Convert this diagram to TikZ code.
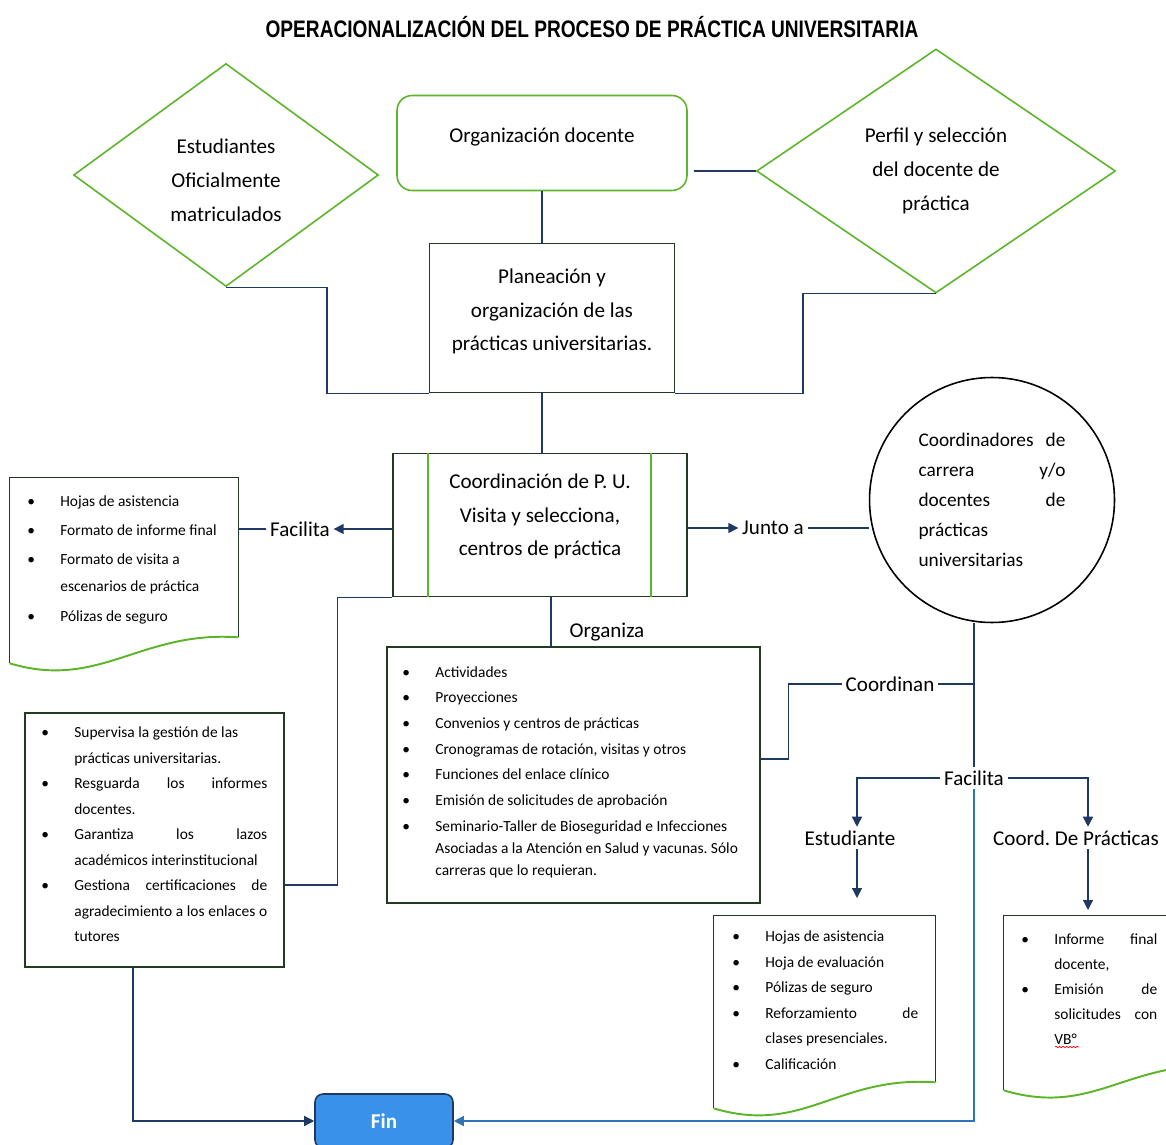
\documentclass[tikz,border=0pt]{standalone}
\usepackage{fontspec}
\setmainfont{Carlito}
\newfontfamily\titlefont[FakeStretch=0.8]{Liberation Sans}
\usepackage{enumitem}
\setlist[itemize]{label=\textbullet, nosep, leftmargin=0.66cm, labelwidth=0.66cm, labelsep=0pt, labelindent=0pt, align=left}
\usetikzlibrary{shapes.geometric,arrows.meta,decorations.pathmorphing}
\definecolor{marino}{RGB}{31, 56, 100}
\definecolor{azul}{RGB}{46, 117, 182}
\definecolor{verde}{RGB}{92, 180, 40}
\definecolor{borde}{RGB}{34, 58, 34}
\definecolor{finazul}{RGB}{58, 145, 232}
\frenchspacing

\begin{document}
\begin{tikzpicture}[x=0.02cm, y=-0.02cm,
    linea/.style={draw=marino, line width=0.75pt},
    flecha/.style={linea, -{Triangle[length=2mm, width=2mm]}},
    caja/.style={draw=borde, line width=0.9pt, align=center, inner sep=0pt, font=\fontsize{12}{19.3}\selectfont},
    rombo/.style={diamond, draw=verde, line width=0.9pt, align=center, inner sep=0pt, font=\fontsize{12}{19.3}\selectfont},
    etiq/.style={inner sep=2pt, font=\fontsize{12}{14}\selectfont},
    lista/.style={anchor=north west, inner sep=0pt},
    marco/.style={inner sep=0pt}]
  \useasboundingbox (0,0) rectangle (1166,1145);
  \clip (0,0) rectangle (1166,1145);

  % titulo
  \node (titulo) at (592,27) {\titlefont\bfseries\fontsize{13.6}{16}\selectfont OPERACIONALIZACIÓN DEL PROCESO DE PRÁCTICA UNIVERSITARIA};

  % parte superior
  \node[rombo, minimum width=6.1cm, minimum height=4.46cm] (estud) at (226,175) {\rule{0pt}{0.5cm}Estudiantes\\Oficialmente\\matriculados};
  \node[caja, draw=verde, rounded corners=0.3cm, minimum width=5.8cm, minimum height=1.9cm] (org) at (542,143) {Organización docente\rule[-0.33cm]{0pt}{0pt}};
  \node[rombo, minimum width=7.18cm, minimum height=4.88cm] (perfil) at (936,171) {Perfil y selección\\del docente de\\práctica};
  \node[caja, minimum width=4.9cm, minimum height=2.98cm] (plan) at (552,318) {Planeación y\\organización de las\\prácticas universitarias.\rule[-0.33cm]{0pt}{0pt}};

  % coordinacion
  \node[caja, minimum width=5.88cm, minimum height=2.86cm] (coord) at (540,525) {Coordinación de P. U.\\Visita y selecciona,\\centros de práctica\rule[-0.41cm]{0pt}{0pt}};
  \draw[verde, line width=0.9pt] ([xshift=0.72cm]coord.north west) -- ([xshift=0.72cm]coord.south west);
  \draw[verde, line width=0.9pt] ([xshift=-0.74cm]coord.north east) -- ([xshift=-0.74cm]coord.south east);
  \node[circle, draw=black, line width=0.9pt, minimum size=4.9cm, inner sep=0pt, text width=2.94cm, align=left, font=\fontsize{11}{17.1}\selectfont] (circ) at (992,500) {Coordinadores\hskip0pt plus1filll de\\carrera\hskip0pt plus1filll y/o\\docentes\hskip0pt plus1filll de\\prácticas\\universitarias};

  % etiquetas
  \node[etiq] (facil1) at (300,529) {Facilita};
  \node[etiq] (junto) at (773,528) {Junto a};
  \node[etiq] (organiza) at (607,632) {Organiza};
  \node[etiq] (coordinan) at (890,684) {Coordinan};
  \node[etiq] (facil2) at (974,778) {Facilita};
  \node[etiq] (estudiante) at (850,838) {Estudiante};
  \node[etiq] (coordprac) at (1076,838) {Coord. De Prácticas};
  \coordinate (puntaB) at (857,898);
  \coordinate (puntaC) at (1088,910);

  % cajas de listas
  \node[marco, draw=borde, line width=0.9pt, minimum width=7.46cm, minimum height=5.12cm] (acts) at (573.5,775) {};
  \node[marco, draw=borde, line width=0.9pt, minimum width=5.18cm, minimum height=5.08cm] (sup) at (154.5,840) {};
  \node[marco, minimum width=4.56cm, minimum height=3.7cm] (docA) at (124,570.5) {};
  \node[marco, minimum width=4.42cm, minimum height=3.84cm] (docB) at (824.5,1012) {};
  \node[marco, minimum width=4.42cm, minimum height=3.48cm] (docC) at (1114.5,1003) {};
  \draw[borde, line width=0.9pt] ([yshift=0.52cm]docA.south east) -- (docA.north east) -- (docA.north west) -- (docA.south west);
  \draw[verde, line width=1.1pt] ([yshift=0.52cm]docA.south east) .. controls +(-98,-7) and +(90,27) .. (docA.south west);
  \draw[borde, line width=0.9pt] ([yshift=0.52cm]docB.south east) -- (docB.north east) -- (docB.north west) -- (docB.south west);
  \draw[verde, line width=1.1pt] ([yshift=0.52cm]docB.south east) .. controls +(-98,-7) and +(90,27) .. (docB.south west);
  \draw[borde, line width=0.9pt] ([yshift=0.48cm]docC.south east) -- (docC.north east) -- (docC.north west) -- (docC.south west);
  \draw[verde, line width=1.1pt] ([yshift=0.48cm]docC.south east) .. controls +(-98,-7) and +(90,27) .. (docC.south west);

  % textos de las listas
  \node[lista, text width=4.4cm, align=flush left, font=\fontsize{8.8}{15.3}\selectfont] (itemsA) at (27,479) {%
    \begin{itemize}[itemsep=1.4pt]
    \item Hojas de asistencia
    \item Formato de informe final
    \item Formato de visita a\newline escenarios de práctica
    \item Pólizas de seguro
    \end{itemize}};
  \node[lista, text width=7cm, align=flush left, font=\fontsize{8.8}{12.5}\selectfont] (itemsO) at (402,655) {%
    \begin{itemize}[itemsep=2.1pt]
    \item Actividades
    \item Proyecciones
    \item Convenios y centros de prácticas
    \item Cronogramas de rotación, visitas y otros
    \item Funciones del enlace clínico
    \item Emisión de solicitudes de aprobación
    \item Seminario-Taller de Bioseguridad e Infecciones\newline Asociadas a la Atención en Salud y vacunas. Sólo\newline carreras que lo requieran.
    \end{itemize}};
  \node[lista, text width=4.52cm, align=justify, font=\fontsize{8.8}{14.5}\selectfont] (itemsS) at (41,712) {%
    \begin{itemize}
    \item Supervisa la gestión de las\newline prácticas universitarias.
    \item Resguarda los informes\linebreak docentes.
    \item Garantiza los lazos\linebreak académicos interinstitucional
    \item Gestiona certificaciones de\linebreak agradecimiento a los enlaces o\linebreak tutores
    \end{itemize}};
  \node[lista, text width=3.72cm, align=justify, font=\fontsize{8.8}{14.5}\selectfont] (itemsB) at (732,916) {%
    \begin{itemize}
    \item Hojas de asistencia
    \item Hoja de evaluación
    \item Pólizas de seguro
    \item Reforzamiento de\linebreak clases presenciales.
    \item Calificación
    \end{itemize}};
  \node[lista, text width=2.72cm, align=justify, font=\fontsize{8.8}{14.3}\selectfont] (itemsC) at (1021,919) {%
    \begin{itemize}
    \item Informe final\linebreak docente,
    \item Emisión de\linebreak solicitudes con\linebreak VB°
    \end{itemize}};
  \draw[red, decorate, decoration={snake, amplitude=0.4pt, segment length=2pt}] (1055,1047) -- (1079,1047);

  % fin
  \node[draw=marino, fill=finazul, rounded corners=0.16cm, line width=0.9pt, minimum width=2.76cm, minimum height=1.08cm, font=\bfseries\fontsize{12}{14}\selectfont, text=white] (fin) at (384,1121) {Fin};

  % conectores
  \draw[linea] (org.south) -- (org.south |- plan.north);
  \draw[linea] (plan.south -| org.south) -- (coord.north -| org.south);
  \draw[linea] (estud.south) -- ++(101,0) |- (plan.south west);
  \draw[linea] (perfil.south) -- ++(-133,0) |- (plan.south east);
  \draw[linea] (perfil.west) -- ++(-62,0);
  \draw[flecha] (coord.west |- facil1) -- (facil1.east);
  \draw[linea] (facil1.west) -- (facil1.west -| docA.east);
  \draw[flecha] (coord.east |- junto) -- (junto.west);
  \draw[linea] (junto.east) -- (junto.east -| circ.west);
  \draw[linea] ([xshift=0.22cm]coord.south) -- ([xshift=0.22cm]coord.south |- acts.north);
  \draw[linea] (coord.south west) -- ++(-55,0) |- ([yshift=-0.9cm]sup.east);
  \draw[flecha] ([xshift=-0.43cm]sup.south) |- (fin.west);
  \draw[linea] (coordinan.west) -- ++(-53,0) |- ([yshift=0.32cm]acts.east);
  \draw[linea] (coordinan.east) -- (coordinan.east -| facil2.north);
  \draw[linea] (facil2.north |- circ.south) -- (facil2.north);
  \draw[flecha] (facil2.west) -| (puntaB |- estudiante.north);
  \draw[flecha] (facil2.east) -| (puntaC |- coordprac.north);
  \draw[flecha] (estudiante.south -| puntaB) -- (puntaB);
  \draw[flecha] (coordprac.south -| puntaC) -- (puntaC);
  \draw[flecha, draw=azul] (facil2.south) |- (fin.east);
\end{tikzpicture}
\end{document}
